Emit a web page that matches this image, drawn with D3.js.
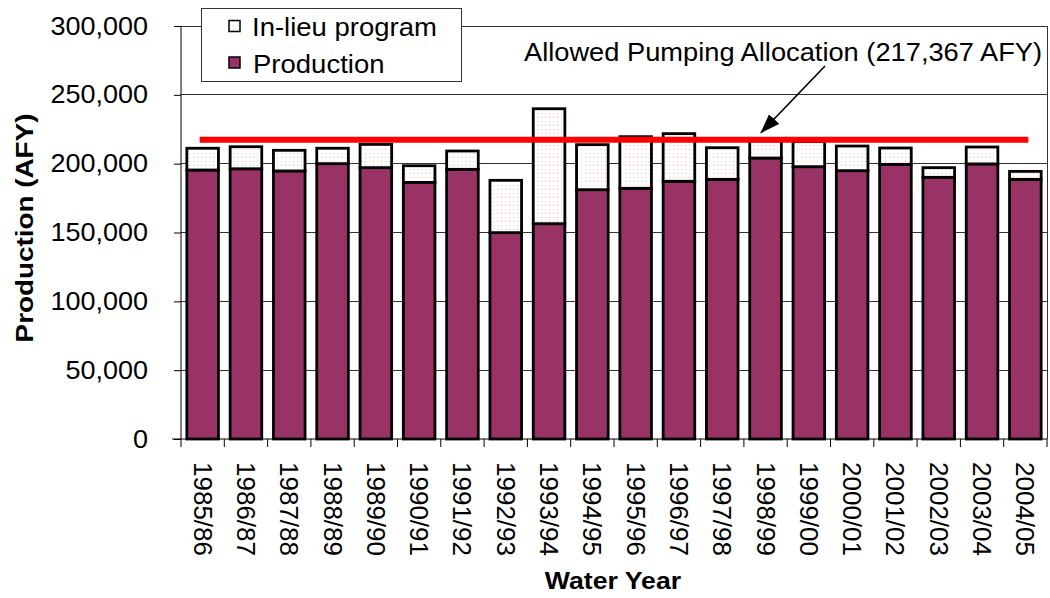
<!DOCTYPE html>
<html>
<head>
<meta charset="utf-8">
<script src="https://cdn.jsdelivr.net/npm/d3@7/dist/d3.min.js"></script>
<style>
  html, body { margin: 0; padding: 0; background: #fff; }
  svg { display: block; font-family: "Liberation Sans", Arial, sans-serif; }
</style>
</head>
<body>
<svg id="chart" width="1050" height="598"></svg>
<script>
// Water years on the x axis
const waterYears = ["1985/86","1986/87","1987/88","1988/89","1989/90","1990/91","1991/92","1992/93",
  "1993/94","1994/95","1995/96","1996/97","1997/98","1998/99","1999/00","2000/01","2001/02",
  "2002/03","2003/04","2004/05"];
// Groundwater production (AFY)
const production = [195400,196300,194700,200000,197100,186400,195900,149900,156400,181100,
  182100,187200,188600,204100,197800,194900,199500,190100,199800,188600];
// In-lieu program deliveries (AFY), stacked on top of production
const inLieu = [15800,16000,15000,11200,16900,12100,13300,38000,83500,32700,
  37500,34600,23000,12400,18200,17900,11900,7000,12300,5800];
// Allowed pumping allocation (AFY)
const allocation = 217367;
const yTicks = [0,50000,100000,150000,200000,250000,300000];

const svg = d3.select("#chart");
const plot = { left: 181, right: 1047, top: 26, bottom: 439 };

const x = d3.scaleBand().domain(waterYears)
  .range([plot.left, plot.right]).paddingInner(0.27).paddingOuter(0.135);
const y = d3.scaleLinear().domain([0, 300000]).range([plot.bottom, plot.top]);

// Dotted fill for the in-lieu segments
const defs = svg.append("defs");
const pat = defs.append("pattern").attr("id", "dots")
  .attr("patternUnits", "userSpaceOnUse").attr("width", 4).attr("height", 4);
pat.append("rect").attr("width", 4).attr("height", 4).attr("fill", "#fff");
pat.append("rect").attr("x", 1).attr("y", 1).attr("width", 1).attr("height", 1)
  .attr("fill", "#f9b9c0").attr("shape-rendering", "crispEdges");

defs.append("marker").attr("id", "arrowhead")
  .attr("viewBox", "0 0 20 14").attr("refX", 19).attr("refY", 7)
  .attr("markerWidth", 20).attr("markerHeight", 14).attr("markerUnits", "userSpaceOnUse")
  .attr("orient", "auto")
  .append("path").attr("d", "M0,0 L20,7 L0,14 z").attr("fill", "#000");

// Gridlines and plot frame
svg.append("g").selectAll("line").data(yTicks.filter(d => d > 0)).join("line")
  .attr("x1", plot.left).attr("x2", plot.right)
  .attr("y1", d => y(d)).attr("y2", d => y(d))
  .attr("stroke", "#333").attr("stroke-width", 1).attr("shape-rendering", "crispEdges");
svg.append("line").attr("x1", plot.right).attr("x2", plot.right)
  .attr("y1", plot.top).attr("y2", plot.bottom)
  .attr("stroke", "#333").attr("shape-rendering", "crispEdges");

// Y axis
const yAxis = d3.axisLeft(y).tickValues(yTicks).tickSize(7).tickPadding(26)
  .tickFormat(d3.format(","));
const gy = svg.append("g").attr("transform", `translate(${plot.left},0)`).call(yAxis);
gy.select(".domain").attr("stroke", "#000").attr("d", `M0,${plot.top}V${plot.bottom}`);
gy.selectAll(".tick line").attr("stroke", "#000");
gy.selectAll(".tick text").attr("font-size", 25).attr("fill", "#000")
  .attr("font-family", "Liberation Sans, Arial, sans-serif").attr("data-stretch", 1.08);

// Bars: production, then in-lieu on top
const bars = svg.append("g");
bars.selectAll("rect.prod").data(waterYears).join("rect").attr("class", "prod")
  .attr("x", d => x(d)).attr("width", x.bandwidth())
  .attr("y", (d, i) => y(production[i]))
  .attr("height", (d, i) => y(0) - y(production[i]))
  .attr("fill", "#993366").attr("stroke", "#000").attr("stroke-width", 2.8);
bars.selectAll("rect.lieu").data(waterYears).join("rect").attr("class", "lieu")
  .attr("x", d => x(d)).attr("width", x.bandwidth())
  .attr("y", (d, i) => y(production[i] + inLieu[i]))
  .attr("height", (d, i) => y(production[i]) - y(production[i] + inLieu[i]))
  .attr("fill", "url(#dots)").attr("stroke", "#000").attr("stroke-width", 2.8);

// X axis with ticks between categories
const step = x.step();
const boundaries = d3.range(waterYears.length + 1).map(i => plot.left + i * step);
const gx = svg.append("g");
gx.append("line").attr("x1", plot.left - 9).attr("x2", plot.right)
  .attr("y1", plot.bottom).attr("y2", plot.bottom).attr("stroke", "#000");
gx.selectAll("line.tk").data(boundaries).join("line").attr("class", "tk")
  .attr("x1", d => d).attr("x2", d => d)
  .attr("y1", plot.bottom).attr("y2", plot.bottom + 8).attr("stroke", "#000");
gx.selectAll("text").data(waterYears).join("text")
  .attr("transform", d => `translate(${x(d) + x.bandwidth() / 2},462) rotate(90)`)
  .attr("dy", "0.36em").attr("font-size", 25).attr("fill", "#000")
  .attr("data-stretch", 1.04)
  .text(d => d);

// Allocation line
svg.append("line")
  .attr("x1", x(waterYears[0]) + x.bandwidth() / 2 - 3)
  .attr("x2", x(waterYears[waterYears.length - 1]) + x.bandwidth() / 2 + 3)
  .attr("y1", y(allocation)).attr("y2", y(allocation))
  .attr("stroke", "#ff0000").attr("stroke-width", 6);

// Annotation
svg.append("text").attr("x", 524).attr("y", 61).attr("font-size", 25).attr("fill", "#000")
  .attr("data-stretch", 1.09)
  .text("Allowed Pumping Allocation (217,367 AFY)");
svg.append("line").attr("x1", 825).attr("y1", 66).attr("x2", 761).attr("y2", y(allocation) - 7)
  .attr("stroke", "#000").attr("stroke-width", 1.6).attr("marker-end", "url(#arrowhead)");

// Legend
const lg = svg.append("g");
lg.append("rect").attr("x", 201.5).attr("y", 8.5).attr("width", 260).attr("height", 73)
  .attr("fill", "#fff").attr("stroke", "#333");
lg.append("rect").attr("x", 229).attr("y", 20.5).attr("width", 11).attr("height", 11)
  .attr("fill", "url(#dots)").attr("stroke", "#000").attr("stroke-width", 1.5);
lg.append("rect").attr("x", 229).attr("y", 57).attr("width", 11).attr("height", 11)
  .attr("fill", "#993366").attr("stroke", "#000").attr("stroke-width", 1.5);
lg.append("text").attr("x", 252).attr("y", 36).attr("font-size", 25)
  .attr("data-stretch", 1.10).text("In-lieu program");
lg.append("text").attr("x", 253).attr("y", 73).attr("font-size", 25)
  .attr("data-stretch", 1.10).text("Production");

// Axis titles
svg.append("text").attr("x", 613).attr("y", 589).attr("text-anchor", "middle")
  .attr("font-size", 24).attr("font-weight", "bold").attr("data-stretch", 1.11)
  .text("Water Year");
svg.append("text").attr("transform", "translate(33,228) rotate(-90)").attr("text-anchor", "middle")
  .attr("font-size", 24).attr("font-weight", "bold").attr("data-stretch", 1.16)
  .text("Production (AFY)");

// Widen glyphs slightly along the reading direction
svg.selectAll("text").each(function () {
  const k = +(this.getAttribute("data-stretch") || 1);
  const len = this.getComputedTextLength();
  d3.select(this).attr("textLength", len * k).attr("lengthAdjust", "spacingAndGlyphs");
});
</script>
</body>
</html>
